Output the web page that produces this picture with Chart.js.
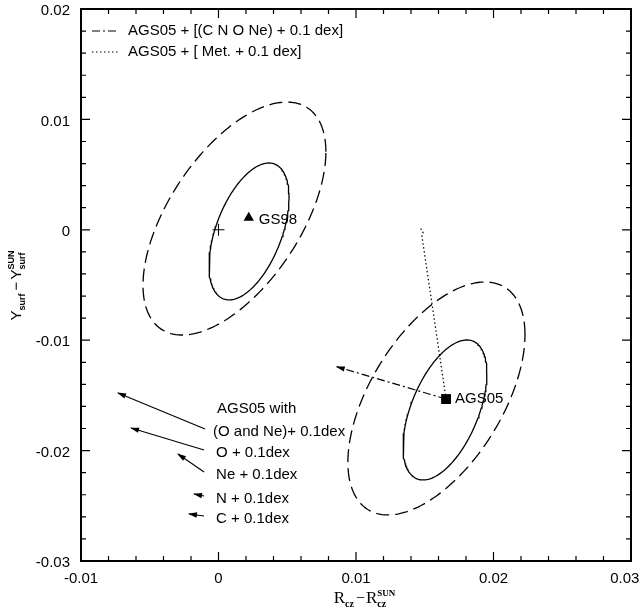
<!DOCTYPE html>
<html><head><meta charset="utf-8">
<script src="https://cdn.jsdelivr.net/npm/chart.js@4.4.1/dist/chart.umd.min.js"></script>
<style>html,body{margin:0;padding:0;background:#fff}#wrap{width:644px;height:610px;position:relative}</style>
</head><body><div id="wrap"><canvas id="c"></canvas></div>
<script>
// ---- tick labels ----
const xTickValues = [-0.01, 0, 0.01, 0.02, 0.03];
const xTickLabels = ['-0.01', '0', '0.01', '0.02', '0.03'];
const yTickValues = [-0.03, -0.02, -0.01, 0, 0.01, 0.02];
const yTickLabels = ['-0.03', '-0.02', '-0.01', '0', '0.01', '0.02'];

// ---- model points ----
const sunX = [0], sunY = [0];
const gs98X = [0.0022], gs98Y = [0.0011];
const ags05X = [0.01655], ags05Y = [-0.01533];

// ---- error ellipses: centre x, centre y, half width x, half height y, tilt ----
const gs98Inner = [0.00222, -0.00015, 0.00291, 0.0062, 0.52];
const gs98Outer = [0.00116, 0.00102, 0.00665, 0.01055, 0.61];
const ags05Inner = [0.01647, -0.01632, 0.00305, 0.00634, 0.55];
const ags05Outer = [0.01585, -0.01528, 0.00644, 0.01055, 0.58];

// ---- AGS05 + [(C N O Ne)+0.1 dex]  (dash-dot) ----
const cnoneX = [0.01655, 0.0086];
const cnoneY = [-0.01533, -0.0124];
// ---- AGS05 + [Met. + 0.1 dex]  (dotted) ----
const metX = [0.01655, 0.01478, 0.01488, 0.01482, 0.01460];
const metY = [-0.01533, -0.00044, -0.00025, -0.00005, 0.00023];

// ---- single element shifts (arrows) ----
const shiftNames = ['(O and Ne)+ 0.1dex', 'O + 0.1dex', 'Ne + 0.1dex', 'N + 0.1dex', 'C + 0.1dex'];
const shiftHeader = 'AGS05 with';
const shiftTailX = [-0.00098, -0.00105, -0.00105, -0.00105, -0.00105];
const shiftTailY = [-0.01804, -0.01995, -0.02194, -0.02411, -0.02592];
const shiftTipX = [-0.00731, -0.00636, -0.00295, -0.00178, -0.00215];
const shiftTipY = [-0.01478, -0.01795, -0.02031, -0.02393, -0.02574];

const legendTexts = ['AGS05 + [(C N O Ne) + 0.1 dex]', 'AGS05 + [ Met. + 0.1 dex]'];

// ---------------------------------------------------------------
const SANS = "'Liberation Sans', Arial, Helvetica, sans-serif";
const SERIF = "'Liberation Serif', 'Times New Roman', serif";

function pts(xs, ys) { return xs.map((x, i) => ({ x: x, y: ys[i] })); }
function ellipse(p) {
  const [cx, cy, rx, ry, d] = p, out = [];
  for (let k = 0; k <= 180; k++) {
    const t = (k / 180) * 2 * Math.PI;
    out.push({ x: cx + rx * Math.cos(t), y: cy + ry * Math.sin(t + d) });
  }
  return out;
}
const lineBase = { showLine: true, pointRadius: 0, borderColor: '#000', fill: false, tension: 0 };

const datasets = [
  Object.assign({ label: 'GS98 1σ', data: ellipse(gs98Inner), borderWidth: 1.3 }, lineBase),
  Object.assign({ label: 'GS98 2σ', data: ellipse(gs98Outer), borderWidth: 1.3, borderDash: [13, 6] }, lineBase),
  Object.assign({ label: 'AGS05 1σ', data: ellipse(ags05Inner), borderWidth: 1.3 }, lineBase),
  Object.assign({ label: 'AGS05 2σ', data: ellipse(ags05Outer), borderWidth: 1.3, borderDash: [13, 6] }, lineBase),
  Object.assign({ label: legendTexts[0], data: pts(cnoneX, cnoneY), borderWidth: 1.2, borderDash: [8, 3, 2, 3], arrow: true, legendRow: 0 }, lineBase),
  Object.assign({ label: legendTexts[1], data: pts(metX, metY), borderWidth: 1.2, borderDash: [1.5, 2.5], legendRow: 1 }, lineBase),
];
shiftNames.forEach((n, i) => {
  datasets.push(Object.assign({ label: n, data: [{ x: shiftTailX[i], y: shiftTailY[i] }, { x: shiftTipX[i], y: shiftTipY[i] }], borderWidth: 1.1, arrow: true, shiftIndex: i }, lineBase));
});
datasets.push({ label: 'Sun', data: pts(sunX, sunY), showLine: false, pointStyle: 'cross', pointRadius: 6, borderColor: '#000', borderWidth: 1.1 });
datasets.push({ label: 'GS98', data: pts(gs98X, gs98Y), showLine: false, pointStyle: 'triangle', pointRadius: 6, backgroundColor: '#000', borderColor: '#000', borderWidth: 0, pointLabel: true, labelDx: 10, labelDy: 2 });
datasets.push({ label: 'AGS05', data: pts(ags05X, ags05Y), showLine: false, pointStyle: 'rect', pointRadius: 7, backgroundColor: '#000', borderColor: '#000', borderWidth: 0, pointLabel: true, labelDx: 9, labelDy: 0 });

function arrowHead(ctx, x0, y0, x1, y1, len, hw) {
  const a = Math.atan2(y1 - y0, x1 - x0);
  ctx.save(); ctx.translate(x1, y1); ctx.rotate(a);
  ctx.beginPath(); ctx.moveTo(1, 0); ctx.lineTo(-len, -hw); ctx.lineTo(-len, hw); ctx.closePath();
  ctx.fill(); ctx.restore();
}

function measureParts(ctx, parts) {
  let w = 0;
  parts.forEach(p => {
    if (p.t !== undefined) { ctx.font = p.font; p.w = ctx.measureText(p.t).width; }
    else {
      ctx.font = p.subFont; const a = ctx.measureText(p.sub).width;
      let b = 0; if (p.sup) { ctx.font = p.supFont; b = ctx.measureText(p.sup).width; }
      p.w = Math.max(a, b) + 1;
    }
    w += p.w + (p.gap || 0);
  });
  return w;
}
function drawParts(ctx, parts, x, y) {
  ctx.textBaseline = 'alphabetic'; ctx.textAlign = 'left';
  parts.forEach(p => {
    if (p.t !== undefined) { ctx.font = p.font; ctx.fillText(p.t, x, y); }
    else {
      ctx.font = p.subFont; ctx.fillText(p.sub, x, y + p.subDy);
      if (p.sup) { ctx.font = p.supFont; ctx.fillText(p.sup, x, y + p.supDy); }
    }
    x += p.w + (p.gap || 0);
  });
}

const decor = {
  id: 'decor',
  afterDatasetsDraw(chart) {
    const ctx = chart.ctx, a = chart.chartArea, xs = chart.scales.x, ys = chart.scales.y;
    ctx.save();
    ctx.fillStyle = '#000'; ctx.strokeStyle = '#000';
    // arrowheads
    chart.data.datasets.forEach((d, i) => {
      if (!d.arrow) return;
      const m = chart.getDatasetMeta(i).data, n = m.length;
      arrowHead(ctx, m[n - 2].x, m[n - 2].y, m[n - 1].x, m[n - 1].y, 8, 2.7);
    });
    // point labels and shift labels
    ctx.font = '15px ' + SANS; ctx.textBaseline = 'middle'; ctx.textAlign = 'left';
    chart.data.datasets.forEach((d, i) => {
      const m = chart.getDatasetMeta(i).data;
      if (d.pointLabel) ctx.fillText(d.label, m[0].x + d.labelDx, m[0].y + d.labelDy);
      if (d.shiftIndex !== undefined) {
        const dx = d.shiftIndex === 0 ? 8 : 12;
        ctx.fillText(d.label, m[0].x + dx, m[0].y + 3);
        if (d.shiftIndex === 0) ctx.fillText(shiftHeader, m[0].x + 12, m[0].y - 20);
      }
    });
    // legend
    chart.data.datasets.forEach(d => {
      if (d.legendRow === undefined) return;
      const yy = a.top + 22 + d.legendRow * 21;
      ctx.save(); ctx.lineWidth = 1.2; ctx.setLineDash(d.borderDash || []);
      ctx.beginPath(); ctx.moveTo(a.left + 11, yy); ctx.lineTo(a.left + 38, yy); ctx.stroke(); ctx.restore();
      ctx.fillText(d.label, a.left + 47, yy);
    });
    // frame
    ctx.lineWidth = 2; ctx.setLineDash([]);
    ctx.strokeRect(a.left, a.top, a.right - a.left, a.bottom - a.top);
    // inward ticks
    ctx.lineWidth = 1.2;
    ctx.beginPath();
    for (let k = 0; k <= 20; k++) {
      const v = -0.01 + k * 0.002, px = xs.getPixelForValue(v), L = (k % 5 === 0) ? 9 : 5;
      ctx.moveTo(px, a.bottom); ctx.lineTo(px, a.bottom - L);
      ctx.moveTo(px, a.top); ctx.lineTo(px, a.top + L);
    }
    for (let k = 0; k <= 25; k++) {
      const v = -0.03 + k * 0.002, py = ys.getPixelForValue(v), L = (k % 5 === 0) ? 9 : 5;
      ctx.moveTo(a.left, py); ctx.lineTo(a.left + L, py);
      ctx.moveTo(a.right, py); ctx.lineTo(a.right - L, py);
    }
    ctx.stroke();
    // axis titles
    const xParts = [
      { t: 'R', font: '17px ' + SERIF },
      { sub: 'cz', subFont: 'bold 10px ' + SERIF, subDy: 4, gap: 1 },
      { t: '\u2212', font: '16px ' + SERIF, gap: 1 },
      { t: 'R', font: '17px ' + SERIF },
      { sub: 'cz', subFont: 'bold 10px ' + SERIF, subDy: 4, sup: 'SUN', supFont: 'bold 9px ' + SERIF, supDy: -7 }
    ];
    const wx = measureParts(ctx, xParts);
    drawParts(ctx, xParts, 365 - wx / 2, 603);
    const yParts = [
      { t: 'Y', font: '15px ' + SANS },
      { sub: 'surf', subFont: 'bold 9px ' + SANS, subDy: 4, gap: 2 },
      { t: '\u2212', font: '15px ' + SANS, gap: 2 },
      { t: 'Y', font: '15px ' + SANS },
      { sub: 'surf', subFont: 'bold 9px ' + SANS, subDy: 4, sup: 'SUN', supFont: 'bold 9px ' + SANS, supDy: -7 }
    ];
    const wy = measureParts(ctx, yParts);
    ctx.save(); ctx.translate(21, 285); ctx.rotate(-Math.PI / 2);
    drawParts(ctx, yParts, -wy / 2, 0);
    ctx.restore();
    ctx.restore();
  }
};

new Chart(document.getElementById('c'), {
  type: 'scatter',
  data: { datasets: datasets },
  options: {
    responsive: true, maintainAspectRatio: false, animation: false,
    layout: { padding: { left: 0, top: 9, right: 13, bottom: 0 } },
    plugins: { legend: { display: false }, tooltip: { enabled: false } },
    scales: {
      x: {
        type: 'linear', min: -0.01, max: 0.03,
        afterBuildTicks: s => { s.ticks = xTickValues.map(v => ({ value: v })); },
        // last label nudged inside the canvas as in the reference
        ticks: { callback: (v, i) => (i === xTickLabels.length - 1 ? xTickLabels[i] + '   ' : xTickLabels[i]), font: { family: SANS, size: 15 }, color: '#000', padding: 9, maxRotation: 0, autoSkip: false },
        grid: { display: false, drawTicks: false }, border: { display: false },
        afterFit: s => { s.height = 49; s.paddingLeft = 0; s.paddingRight = 0; }
      },
      y: {
        type: 'linear', min: -0.03, max: 0.02,
        afterBuildTicks: s => { s.ticks = yTickValues.map(v => ({ value: v })); },
        ticks: { callback: (v, i) => yTickLabels[i], font: { family: SANS, size: 15 }, color: '#000', padding: 11, labelOffset: 2, autoSkip: false },
        grid: { display: false, drawTicks: false }, border: { display: false },
        afterFit: s => { s.width = 81; s.paddingTop = 0; s.paddingBottom = 0; }
      }
    }
  },
  plugins: [decor]
});
</script>
</body></html>
